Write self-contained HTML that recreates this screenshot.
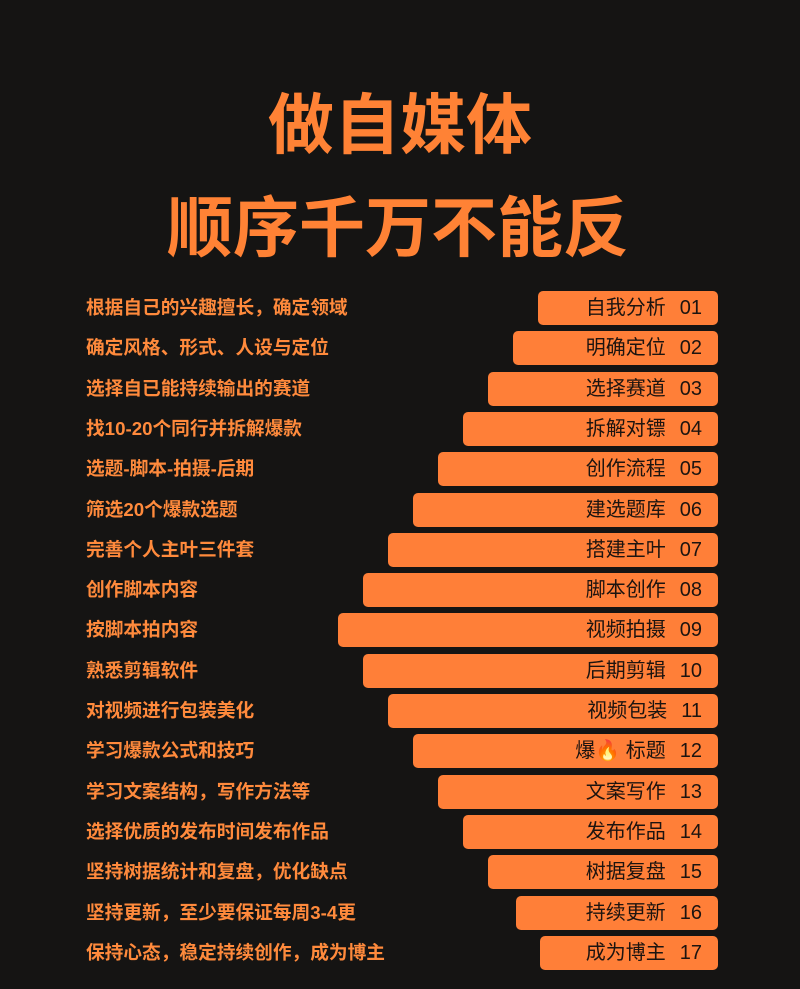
<!DOCTYPE html>
<html><head><meta charset="utf-8"><style>
body{margin:0;width:800px;height:989px;background:#151413;overflow:hidden;font-family:"Liberation Sans","Noto Sans CJK SC",sans-serif;position:relative}
.t{position:absolute;left:0;width:800px;text-align:center;color:#ff8235;font-weight:bold;font-size:66px;line-height:66px;letter-spacing:0px}
.l{position:absolute;left:86px;color:#ff8a3c;font-size:18.7px;font-weight:bold;line-height:22px}
.b{position:absolute;right:82px;height:34px;background:#ff7f38;border-radius:5px;color:#1c1410;font-size:20px;line-height:34px;text-align:right;padding-right:16px;box-sizing:border-box;white-space:nowrap}
.b span{margin-left:14px}
</style></head><body>
<div class="t" style="top:92px">做自媒体</div>
<div class="t" style="top:195px;left:-2px">顺序千万不能反</div>
<div id="c"></div>
<script>
var L=["根据自己的兴趣擅长，确定领域","确定风格、形式、人设与定位","选择自已能持续输出的赛道","找10-20个同行并拆解爆款","选题-脚本-拍摄-后期","筛选20个爆款选题","完善个人主叶三件套","创作脚本内容","按脚本拍内容","熟悉剪辑软件","对视频进行包装美化","学习爆款公式和技巧","学习文案结构，写作方法等","选择优质的发布时间发布作品","坚持树据统计和复盘，优化缺点","坚持更新，至少要保证每周3-4更","保持心态，稳定持续创作，成为博主"];
var B=["自我分析","明确定位","选择赛道","拆解对镖","创作流程","建选题库","搭建主叶","脚本创作","视频拍摄","后期剪辑","视频包装","爆🔥 标题","文案写作","发布作品","树据复盘","持续更新","成为博主"];
var X=[538,513,488,463,438,413,388,363,338,363,388,413,438,463,488,516,540];
var h="";
for(var i=0;i<17;i++){var cy=308+i*40.3;
h+='<div class="l" style="top:'+(cy-11)+'px">'+L[i]+'</div>';
h+='<div class="b" style="top:'+(cy-17)+'px;left:'+X[i]+'px">'+B[i]+'<span>'+(i<9?'0':'')+(i+1)+'</span></div>';}
document.getElementById("c").innerHTML=h;
</script>
</body></html>
